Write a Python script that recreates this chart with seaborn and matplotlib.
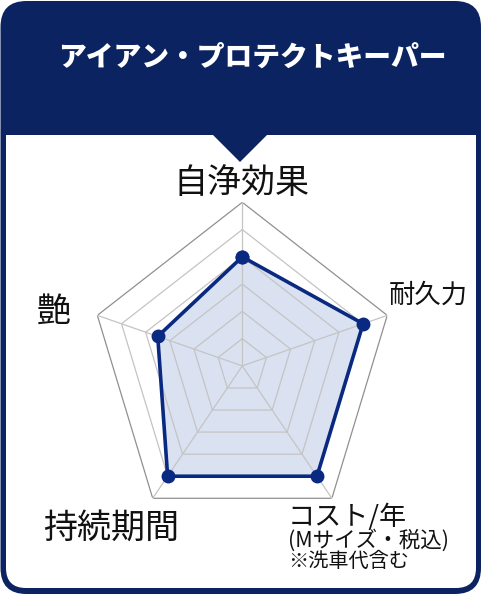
import numpy as np
import matplotlib
matplotlib.use('Agg')
import matplotlib.pyplot as plt
from matplotlib.patches import FancyBboxPatch, Rectangle, Polygon
import seaborn as sns

sns.set_theme(style='white')
plt.rcParams['font.family'] = ['Noto Sans CJK JP', 'DejaVu Sans']

# data
title = 'アイアン・プロテクトキーパー'
categories = ['自浄効果', '耐久力', 'コスト/年', '持続期間', '艶']
values = [4, 5, 5, 5, 3.5]
levels = [1, 2, 3, 4, 5, 6]

navy = '#0b2360'
line_col = '#0a2980'
fill_col = '#dae1f1'

fig = plt.figure(figsize=(4.84, 5.98), dpi=100)

# frame (pixel coords, y down)
bg = fig.add_axes([0, 0, 1, 1], zorder=0)
bg.set_xlim(0, 484)
bg.set_ylim(598, 0)
bg.axis('off')
bg.add_patch(FancyBboxPatch((0.5, 1), 480.5, 593, boxstyle='round,pad=0,rounding_size=26',
                            fc=navy, ec='none'))
bg.add_patch(FancyBboxPatch((6, 135), 470, 453, boxstyle='round,pad=0,rounding_size=20',
                            fc='white', ec='none'))
bg.add_patch(Rectangle((6, 135), 470, 40, fc='white', ec='none'))
bg.add_patch(Polygon([(213, 135), (267, 135), (240, 162)], closed=True, fc=navy, ec='none'))

bg.text(252, 57, title, color='white', fontsize=20, fontweight='black', ha='center', va='center')

# category labels
bg.text(241.5, 183, categories[0], fontsize=24.5, ha='center', va='center', color='#111111')
bg.text(428, 295, categories[1], fontsize=19, ha='center', va='center', color='#111111')
bg.text(288, 517, categories[2], fontsize=19.5, ha='left', va='center', color='#111111')
bg.text(288, 540, '(Mサイズ・税込)', fontsize=15.5, ha='left', va='center', color='#111111')
bg.text(288, 561, '※洗車代含む', fontsize=14.5, ha='left', va='center', color='#111111')
bg.text(111.5, 528, categories[3], fontsize=24.5, ha='center', va='center', color='#111111')
bg.text(54, 312, categories[4], fontsize=24.5, ha='center', va='center', color='#111111')

# radar
ax = fig.add_axes([0.1857, 0.1145, 0.6298, 0.5472], projection='polar', zorder=1)
ax.set_theta_offset(np.pi / 2)
ax.set_theta_direction(-1)
ax.set_aspect('auto')
ax.patch.set_alpha(0)

n = len(categories)
theta = np.linspace(0, 2 * np.pi, n, endpoint=False)
theta_c = np.append(theta, theta[0] + 2 * np.pi)
vals_c = np.append(values, values[0])

ax.fill(theta_c, vals_c, color=fill_col, zorder=1, lw=0)

for lv in levels:
    ax.plot(theta_c, [lv] * (n + 1), color='#909090' if lv == levels[-1] else '#c4c4c4',
            lw=0.9, zorder=2)
for t in theta:
    ax.plot([t, t], [0, levels[-1]], color='#c4c4c4', lw=0.9, zorder=2)

sns.lineplot(x=theta_c, y=vals_c, sort=False, estimator=None, ax=ax, color=line_col,
             lw=2.6, marker='o', markersize=10, markeredgewidth=0, zorder=3)

ax.set_ylim(0, levels[-1])
ax.grid(False)
ax.set_xticks([])
ax.set_yticks([])
ax.set_xlabel('')
ax.set_ylabel('')
ax.spines['polar'].set_visible(False)

fig.savefig('out.png', dpi=100, facecolor='white')
